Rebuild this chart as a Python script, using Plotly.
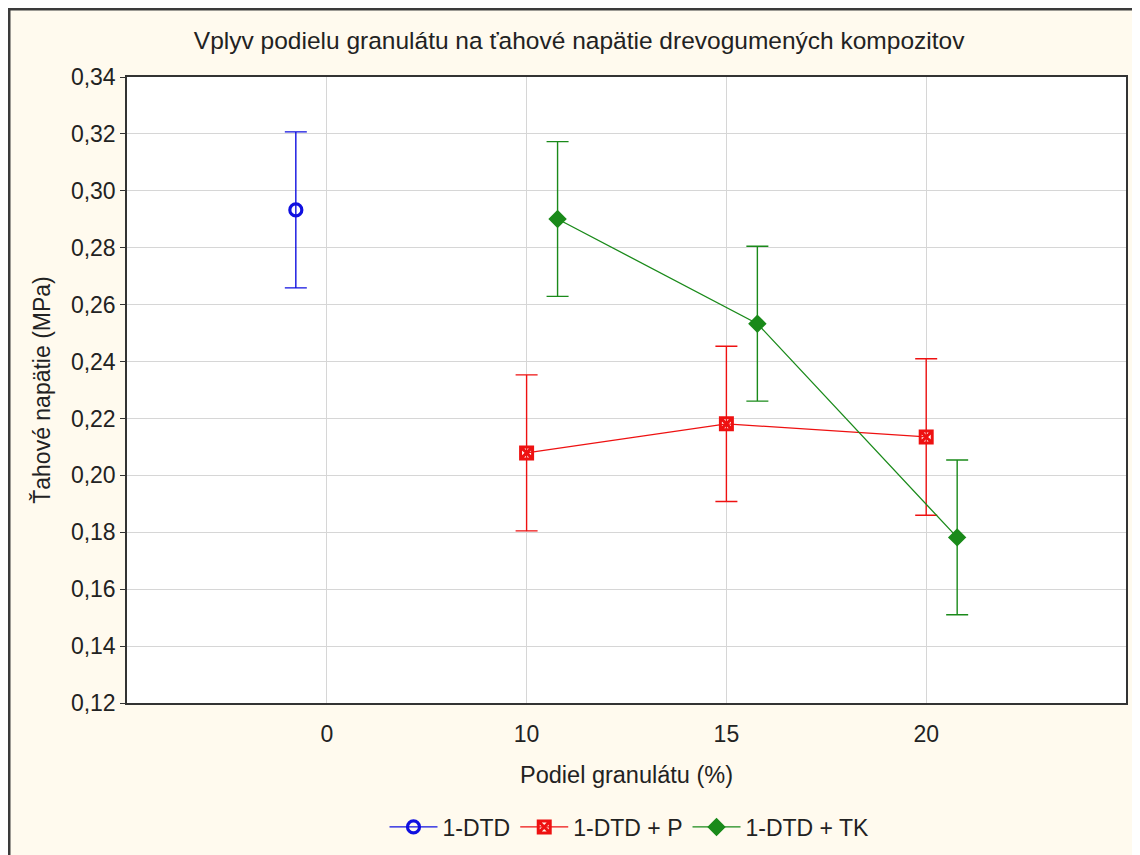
import plotly.graph_objects as go

categories = ["0", "10", "15", "20"]

blue_name = "1-DTD"
blue_cat = [0]
blue_mean = [0.2933]
blue_err = [0.0274]

red_name = "1-DTD + P"
red_cat = [1, 2, 3]
red_mean = [0.2079, 0.2181, 0.2135]
red_err = [0.0274, 0.0273, 0.0275]

green_name = "1-DTD + TK"
green_cat = [1, 2, 3]
green_mean = [0.2901, 0.2533, 0.1782]
green_err = [0.0272, 0.0272, 0.0272]

OFFSET = 0.155
FONT = "Liberation Sans, Arial, sans-serif"
FS = 23

fig = go.Figure()

def add(name, cats, means, errs, offset, color, symbol, size, lw):
    fig.add_trace(go.Scatter(
        x=[c + offset for c in cats], y=means, name=name, mode="lines+markers",
        line=dict(color=color, width=1.3),
        marker=dict(symbol=symbol, size=size, color=color,
                    line=dict(color=color, width=lw)),
        error_y=dict(type="data", array=errs, visible=True, color=color,
                     thickness=1.4, width=11),
    ))

add(blue_name, blue_cat, blue_mean, blue_err, -OFFSET, "#1010e0", "circle-open", 12, 3.2)
add(red_name, red_cat, red_mean, red_err, 0.0, "#ee1111", "square-x-open", 12, 3)
add(green_name, green_cat, green_mean, green_err, OFFSET, "#1a8a1a", "diamond", 12, 2)

L, T, R, B = 119, 69, 22, 160
PW = 1140 - L - R
PH = 855 - T - B

fig.update_layout(
    width=1140, height=855,
    paper_bgcolor="#fffaee",
    plot_bgcolor="white",
    margin=dict(l=L, r=R, t=T, b=B, autoexpand=False),
    separators=", ",
    font=dict(family=FONT, size=FS, color="#222222"),
    title=dict(text="Vplyv podielu granulátu na ťahové napätie drevogumených kompozitov",
               xref="container", x=0.501, xanchor="center",
               yref="container", y=1 - 32 / 855, yanchor="middle",
               font=dict(family=FONT, size=24.5, color="#222222")),
    showlegend=True,
    legend=dict(orientation="h", x=0.503, xanchor="center", y=-(819 - (T + PH)) / PH, yanchor="middle",
                bgcolor="rgba(0,0,0,0)", font=dict(size=FS), itemwidth=48),
    xaxis=dict(range=[-1, 4], tickmode="array", tickvals=[0, 1, 2, 3], ticktext=categories,
               showgrid=True, gridcolor="#d6d6d6", gridwidth=1,
               showline=True, linecolor="#333333", linewidth=1.5, mirror=True,
               ticks="", zeroline=False, ticklabelstandoff=10,
               title=dict(text="Podiel granulátu (%)", standoff=20, font=dict(size=23.5))),
    yaxis=dict(range=[0.12, 0.34], tickmode="array",
               tickvals=[0.12, 0.14, 0.16, 0.18, 0.20, 0.22, 0.24, 0.26, 0.28, 0.30, 0.32, 0.34],
               tickformat=".2f",
               showgrid=True, gridcolor="#d6d6d6", gridwidth=1,
               showline=True, linecolor="#333333", linewidth=1.5, mirror=True,
               ticks="outside", ticklen=5, tickcolor="#333333", zeroline=False,
               title=dict(text="Ťahové napätie (MPa)", standoff=14, font=dict(size=FS))),
)

# dark frame lines at the left and top edge of the panel
fig.add_shape(type="line", xref="paper", yref="paper", x0=-L / PW + 0.001, x1=-L / PW + 0.001,
              y0=-B / PH, y1=1 + T / PH, line=dict(color="#3a3a3a", width=3))
fig.add_shape(type="line", xref="paper", yref="paper", x0=-L / PW, x1=1 + R / PW,
              y0=1 + T / PH - 0.0015, y1=1 + T / PH - 0.0015, line=dict(color="#3a3a3a", width=3))

fig.write_html("out.html")
